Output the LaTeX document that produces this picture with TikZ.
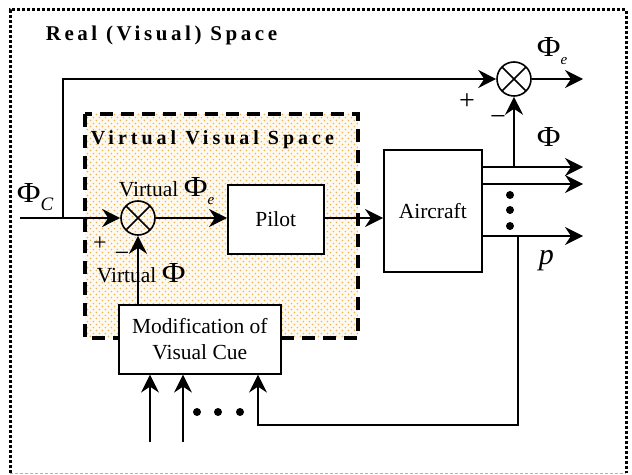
\documentclass[tikz,border=0pt]{standalone}
\usepackage{fontspec}
\usepackage{graphicx}
\setmainfont{Liberation Serif}
\newfontfamily\spaced[LetterSpace=17]{Liberation Serif}
\newfontfamily\vspaced[LetterSpace=20]{Liberation Serif}
\usetikzlibrary{arrows.meta,patterns.meta}
\tikzdeclarepattern{name=mydots, type=uncolored,
  bounding box={(0pt,0pt) and (6pt,6pt)}, tile size={(6pt,6pt)},
  code={\fill (1.5pt,1.5pt) circle (0.8pt); \fill (4.5pt,4.5pt) circle (0.8pt);}}
\definecolor{dotcol}{RGB}{236,178,92}
\definecolor{bgcol}{RGB}{254,249,238}
\newcommand{\bigPhi}{\scalebox{1.12}[1]{\fontsize{29bp}{31bp}\selectfont Φ}}
\begin{document}
\begin{tikzpicture}[x=1bp,y=-1bp,line width=1.6bp,
  arr/.style={-{Stealth[length=18bp,width=18bp,inset=6bp]}},
  blk/.style={draw,line width=1.6bp,fill=white,font=\fontsize{21.5bp}{26bp}\selectfont,align=center,inner sep=0pt,anchor=north west},
  sumj/.style={draw,circle,minimum size=34bp,inner sep=0pt,line width=1.6bp,
    path picture={\draw[line width=1.6bp] (path picture bounding box.north west)--(path picture bounding box.south east) (path picture bounding box.north east)--(path picture bounding box.south west);}},
  lbl/.style={font=\fontsize{21.5bp}{25bp}\selectfont,inner sep=0pt,anchor=base west},
  ttl/.style={font=\fontsize{21bp}{24bp}\selectfont\spaced\bfseries,inner sep=0pt,anchor=base west},
  vttl/.style={font=\fontsize{20bp}{24bp}\selectfont\vspaced\bfseries,inner sep=0pt,anchor=base west},
  sgn/.style={font=\fontsize{28bp}{30bp}\selectfont,inner sep=0pt,anchor=base},
  bullet/.style={fill,circle,inner sep=0pt,minimum size=8bp}]
\useasboundingbox (0,0) rectangle (632,475);
% outer border
\draw[line width=3bp,dash pattern=on 3bp off 2bp] (10,473) -- (10,10) -- (626,10) -- (626,473);
\draw[gray!60,line width=1bp,dash pattern=on 3bp off 2bp] (10,473) -- (626,473);
\node[ttl] (title) at (45,41) {Real (Visual) Space};
% virtual space box
\fill[bgcol] (85,114) rectangle (358,338);
\fill[pattern=mydots,pattern color=dotcol] (85,114) rectangle (358,338);
\draw[line width=4bp,dash pattern=on 13bp off 8bp] (85,114) rectangle (358,338);
\node[vttl] (vtitle) at (90,145) {Virtual Visual Space};
% blocks
\node[blk,minimum width=96bp,minimum height=69bp] (pilot) at (227,184) {Pilot};
\node[blk,minimum width=98bp,minimum height=122bp] (aircraft) at (383,149) {Aircraft};
\node[blk,minimum width=162bp,minimum height=69bp] (mod) at (118,304) {Modification of\\Visual Cue};
\node[sumj] (sumL) at (138,218) {};
\node[sumj] (sumR) at (514,79) {};
% coordinates
\coordinate (in) at (20,218);
\coordinate (br) at (63,218);
\coordinate (oe) at (583,79);
\coordinate (o1) at (583,167);
\coordinate (o2) at (583,184);
\coordinate (o3) at (583,236);
\coordinate (b1) at (514,167);
\coordinate (b3) at (518,236);
\coordinate (fb) at (258,425);
\coordinate (u1) at (150,442);
\coordinate (u2) at (183,442);
% connectors
\draw[arr] (in) -- (sumL.west);
\draw[arr] (br) |- (sumR.west);
\draw[arr] (sumL.east) -- (pilot.west |- sumL.east);
\draw[arr] (pilot.east |- sumL.east) -- (aircraft.west |- sumL.east);
\draw[arr] (sumR.east) -- (oe);
\draw[arr] (aircraft.east |- o1) -- (o1);
\draw[arr] (aircraft.east |- o2) -- (o2);
\draw[arr] (aircraft.east |- o3) -- (o3);
\draw[arr] (b1) -- (sumR.south);
\draw[arr] (b3) |- (fb) -- (fb |- mod.south);
\draw[arr] (sumL |- mod.north) -- (sumL.south);
\draw[arr] (u1) -- (u1 |- mod.south);
\draw[arr] (u2) -- (u2 |- mod.south);
% dots
\node[bullet] (d1) at (510,195) {};
\node[bullet] (d2) at (510,210) {};
\node[bullet] (d3) at (510,226) {};
\node[bullet] (d4) at (197,412) {};
\node[bullet] (d5) at (218,412) {};
\node[bullet] (d6) at (240,412) {};
% labels
\node[lbl] (lphic) at (16,203) {\bigPhi\raisebox{-8bp}{\fontsize{19bp}{20bp}\selectfont\itshape C}};
\node[lbl] (lvphie) at (118,197) {Virtual \bigPhi\raisebox{-8bp}{\fontsize{15bp}{17bp}\selectfont\itshape e}};
\node[lbl] (lvphi) at (96,283) {Virtual \bigPhi};
\node[lbl] (lphie) at (536,57) {\bigPhi\raisebox{-8bp}{\fontsize{15bp}{17bp}\selectfont\itshape e}};
\node[lbl] (lphi) at (536,147) {\bigPhi};
\node[lbl,font=\fontsize{30bp}{32bp}\selectfont\itshape] (lp) at (538,265) {p};
\node[sgn,font=\fontsize{24bp}{26bp}\selectfont] (pl1) at (100,251) {+};
\node[sgn,font=\fontsize{26bp}{28bp}\selectfont] (mi1) at (122,262) {−};
\node[sgn] (pl2) at (467,110) {+};
\node[sgn] (mi2) at (498,126) {−};
\end{tikzpicture}
\end{document}
